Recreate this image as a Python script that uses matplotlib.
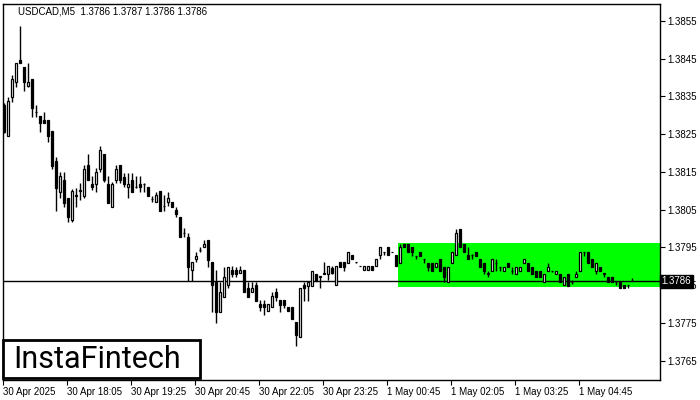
import matplotlib
matplotlib.use("Agg")
import matplotlib.pyplot as plt
from matplotlib.patches import Rectangle
import numpy as np

plt.rcParams['font.family'] = ['Liberation Sans', 'DejaVu Sans']

symbol_title = "USDCAD,M5  1.3786 1.3787 1.3786 1.3786"
current_price = 1.3786

opens = [1.38327, 1.38245, 1.38349, 1.38388, 1.38447, 1.38428, 1.38378, 1.38396, 1.38309, 1.38298,
         1.38288, 1.38288, 1.38259, 1.38179, 1.38097, 1.38129, 1.38081, 1.38023, 1.38086, 1.38100,
         1.38086, 1.38168, 1.38118, 1.38118, 1.38158, 1.38198, 1.38118, 1.38057, 1.38129, 1.38168,
         1.38137, 1.38110, 1.38129, 1.38110, 1.38118, 1.38118, 1.38110, 1.38078, 1.38070, 1.38100,
         1.38060, 1.38070, 1.38070, 1.38049, 1.38031, 1.37988, 1.37978, 1.37890, 1.37919, 1.37943,
         1.37951, 1.37970, 1.37911, 1.37858, 1.37779, 1.37819, 1.37850, 1.37890, 1.37890, 1.37882,
         1.37890, 1.37842, 1.37832, 1.37850, 1.37800, 1.37800, 1.37781, 1.37792, 1.37832, 1.37811,
         1.37811, 1.37792, 1.37792, 1.37752, 1.37713, 1.37850, 1.37848, 1.37848, 1.37880, 1.37872,
         1.37880, 1.37880, 1.37896, 1.37850, 1.37911, 1.37911, 1.37909, 1.37930, 1.37911, 1.37901,
         1.37890, 1.37890, 1.37901, 1.37901, 1.37930, 1.37938, 1.37951, 1.37938, 1.37930, 1.37909,
         1.37959, 1.37959, 1.37951, 1.37927, 1.37938, 1.37919, 1.37909, 1.37909, 1.37898, 1.37919,
         1.37898, 1.37858, 1.37909, 1.37930, 1.37999, 1.37959, 1.37930, 1.37930, 1.37938, 1.37919,
         1.37909, 1.37880, 1.37887, 1.37909, 1.37898, 1.37887, 1.37909, 1.37887, 1.37880, 1.37887,
         1.37909, 1.37909, 1.37898, 1.37887, 1.37887, 1.37858, 1.37887, 1.37887, 1.37880, 1.37880,
         1.37850, 1.37880, 1.37858, 1.37872, 1.37887, 1.37938, 1.37938, 1.37919, 1.37887, 1.37898,
         1.37880, 1.37872, 1.37872, 1.37858, 1.37858, 1.37850, 1.37850, 1.37860]
highs = [1.38333, 1.38349, 1.38407, 1.38439, 1.38537, 1.38428, 1.38439, 1.38396, 1.38327, 1.38298,
         1.38309, 1.38288, 1.38259, 1.38190, 1.38150, 1.38150, 1.38081, 1.38105, 1.38107, 1.38121,
         1.38168, 1.38198, 1.38139, 1.38160, 1.38219, 1.38198, 1.38139, 1.38123, 1.38168, 1.38168,
         1.38147, 1.38147, 1.38147, 1.38139, 1.38139, 1.38120, 1.38110, 1.38086, 1.38097, 1.38100,
         1.38089, 1.38097, 1.38070, 1.38057, 1.38031, 1.38001, 1.37988, 1.37911, 1.37938, 1.37951,
         1.37970, 1.37970, 1.37911, 1.37890, 1.37858, 1.37898, 1.37898, 1.37901, 1.37898, 1.37901,
         1.37890, 1.37858, 1.37858, 1.37858, 1.37811, 1.37811, 1.37800, 1.37832, 1.37842, 1.37811,
         1.37811, 1.37792, 1.37792, 1.37752, 1.37842, 1.37858, 1.37858, 1.37887, 1.37880, 1.37873,
         1.37911, 1.37901, 1.37901, 1.37901, 1.37911, 1.37911, 1.37938, 1.37930, 1.37912, 1.37902,
         1.37901, 1.37901, 1.37901, 1.37919, 1.37951, 1.37939, 1.37951, 1.37939, 1.37930, 1.37959,
         1.37959, 1.37959, 1.37951, 1.37928, 1.37938, 1.37920, 1.37909, 1.37909, 1.37909, 1.37919,
         1.37898, 1.37898, 1.37938, 1.37999, 1.37999, 1.37959, 1.37951, 1.37932, 1.37938, 1.37919,
         1.37909, 1.37887, 1.37919, 1.37919, 1.37899, 1.37898, 1.37909, 1.37898, 1.37898, 1.37898,
         1.37919, 1.37909, 1.37898, 1.37887, 1.37887, 1.37880, 1.37909, 1.37888, 1.37887, 1.37880,
         1.37872, 1.37880, 1.37864, 1.37887, 1.37938, 1.37939, 1.37938, 1.37919, 1.37909, 1.37898,
         1.37881, 1.37872, 1.37872, 1.37859, 1.37858, 1.37850, 1.37851, 1.37870]
lows = [1.38253, 1.38245, 1.38335, 1.38375, 1.38439, 1.38365, 1.38375, 1.38296, 1.38296, 1.38256,
        1.38280, 1.38229, 1.38158, 1.38046, 1.38081, 1.38057, 1.38017, 1.38017, 1.38057, 1.38076,
        1.38081, 1.38129, 1.38102, 1.38097, 1.38150, 1.38123, 1.38068, 1.38057, 1.38121, 1.38121,
        1.38110, 1.38081, 1.38097, 1.38107, 1.38097, 1.38097, 1.38086, 1.38070, 1.38070, 1.38046,
        1.38046, 1.38060, 1.38057, 1.38031, 1.37978, 1.37978, 1.37861, 1.37861, 1.37911, 1.37938,
        1.37951, 1.37898, 1.37779, 1.37750, 1.37779, 1.37819, 1.37842, 1.37872, 1.37872, 1.37882,
        1.37832, 1.37819, 1.37832, 1.37808, 1.37781, 1.37771, 1.37781, 1.37792, 1.37808, 1.37779,
        1.37789, 1.37781, 1.37760, 1.37689, 1.37713, 1.37808, 1.37808, 1.37848, 1.37861, 1.37842,
        1.37880, 1.37864, 1.37880, 1.37850, 1.37898, 1.37887, 1.37909, 1.37919, 1.37910, 1.37900,
        1.37890, 1.37890, 1.37890, 1.37901, 1.37919, 1.37930, 1.37930, 1.37937, 1.37901, 1.37909,
        1.37951, 1.37938, 1.37927, 1.37919, 1.37927, 1.37909, 1.37887, 1.37887, 1.37898, 1.37887,
        1.37858, 1.37858, 1.37909, 1.37930, 1.37951, 1.37938, 1.37919, 1.37919, 1.37927, 1.37898,
        1.37880, 1.37872, 1.37887, 1.37887, 1.37887, 1.37887, 1.37898, 1.37880, 1.37880, 1.37887,
        1.37909, 1.37887, 1.37880, 1.37872, 1.37872, 1.37858, 1.37887, 1.37886, 1.37880, 1.37858,
        1.37850, 1.37848, 1.37853, 1.37872, 1.37887, 1.37927, 1.37909, 1.37898, 1.37880, 1.37887,
        1.37872, 1.37858, 1.37858, 1.37850, 1.37842, 1.37842, 1.37842, 1.37860]
closes = [1.38256, 1.38338, 1.38396, 1.38439, 1.38439, 1.38388, 1.38388, 1.38320, 1.38310, 1.38280,
          1.38280, 1.38245, 1.38166, 1.38107, 1.38139, 1.38068, 1.38031, 1.38100, 1.38089, 1.38101,
          1.38158, 1.38129, 1.38110, 1.38150, 1.38208, 1.38129, 1.38068, 1.38118, 1.38158, 1.38129,
          1.38118, 1.38118, 1.38097, 1.38111, 1.38110, 1.38119, 1.38086, 1.38079, 1.38089, 1.38046,
          1.38061, 1.38081, 1.38057, 1.38038, 1.37978, 1.37989, 1.37898, 1.37911, 1.37927, 1.37944,
          1.37959, 1.37917, 1.37850, 1.37779, 1.37832, 1.37872, 1.37898, 1.37880, 1.37880, 1.37890,
          1.37832, 1.37819, 1.37842, 1.37808, 1.37792, 1.37792, 1.37800, 1.37821, 1.37819, 1.37797,
          1.37797, 1.37781, 1.37760, 1.37718, 1.37842, 1.37842, 1.37858, 1.37887, 1.37861, 1.37872,
          1.37881, 1.37901, 1.37882, 1.37901, 1.37898, 1.37898, 1.37938, 1.37919, 1.37911, 1.37901,
          1.37901, 1.37901, 1.37890, 1.37919, 1.37951, 1.37938, 1.37930, 1.37938, 1.37901, 1.37951,
          1.37951, 1.37938, 1.37938, 1.37927, 1.37927, 1.37919, 1.37898, 1.37887, 1.37909, 1.37887,
          1.37872, 1.37898, 1.37938, 1.37988, 1.37951, 1.37938, 1.37919, 1.37931, 1.37927, 1.37898,
          1.37887, 1.37881, 1.37919, 1.37910, 1.37898, 1.37898, 1.37898, 1.37888, 1.37898, 1.37898,
          1.37919, 1.37887, 1.37880, 1.37872, 1.37872, 1.37880, 1.37898, 1.37887, 1.37887, 1.37858,
          1.37872, 1.37848, 1.37859, 1.37880, 1.37938, 1.37938, 1.37909, 1.37898, 1.37909, 1.37887,
          1.37880, 1.37858, 1.37858, 1.37858, 1.37842, 1.37842, 1.37850, 1.37860]

time_labels = ["30 Apr 2025", "30 Apr 18:05", "30 Apr 19:25", "30 Apr 20:45", "30 Apr 22:05",
               "30 Apr 23:25", "1 May 00:45", "1 May 02:05", "1 May 03:25", "1 May 04:45"]
label_step = 16
price_ticks = [1.3765, 1.3775, 1.3785, 1.3795, 1.3805, 1.3815, 1.3825, 1.3835, 1.3845, 1.3855]

zone_start = 99
zone_top = 1.37963
zone_bottom = 1.37846

fig = plt.figure(figsize=(7, 4), dpi=100)
ax = fig.add_axes([3/700, 20/400, 657/700, 376/400])
ax.set_xlim(-0.25, 164)
ax.set_ylim(1.37599, 1.38595)

n = len(opens)
x = np.arange(n)
o = np.array(opens); h = np.array(highs); l = np.array(lows); c = np.array(closes)

ax.add_patch(Rectangle((zone_start - 0.45, zone_bottom), 164 - zone_start + 1,
                       zone_top - zone_bottom, facecolor='#00ff00', edgecolor='none', zorder=1))
ax.axhline(current_price, color='black', lw=1.0, zorder=2)

ax.vlines(x, l, h, color='black', lw=1.0, zorder=3)
bottoms = np.minimum(o, c)
heights = np.maximum(np.abs(c - o), 0.000012)
up = c >= o
ax.bar(x[up], heights[up], bottom=bottoms[up], width=0.62, color='white',
       edgecolor='black', linewidth=0.9, zorder=4)
ax.bar(x[~up], heights[~up], bottom=bottoms[~up], width=0.62, color='black',
       edgecolor='black', linewidth=0.9, zorder=4)

ax.yaxis.tick_right()
ax.set_yticks(price_ticks)
ax.set_yticklabels([f"{p:.4f}" for p in price_ticks])
ax.set_xticks(np.arange(len(time_labels)) * label_step - 0.25)
ax.set_xticklabels(time_labels, ha='left')
ax.tick_params(axis='both', which='both', direction='out', length=3.5, width=0.8,
               labelsize=7, colors='black', pad=1.5)
ax.tick_params(axis='y', pad=2)
for s in ax.spines.values():
    s.set_linewidth(1.0)
    s.set_color('black')

ax.text(1.0025, current_price, "1.3786", transform=ax.get_yaxis_transform(),
        ha='left', va='center', fontsize=7, color='white', zorder=10, clip_on=False,
        bbox=dict(boxstyle='square,pad=0.2', facecolor='black', edgecolor='black'))

fig.text(18/700, 1 - 12/400, symbol_title, fontsize=7, va='center', ha='left', color='black')

fig.patches.append(Rectangle((3/700, 1 - 378/400), 197/700, 38/400, transform=fig.transFigure,
                             facecolor='white', edgecolor='black', linewidth=2, zorder=20))
fig.text(13/700, 1 - 359/400, "InstaFintech", fontsize=22, family='Roboto',
         va='center', ha='left', color='black', zorder=21)

fig.savefig("out.png", dpi=100)
